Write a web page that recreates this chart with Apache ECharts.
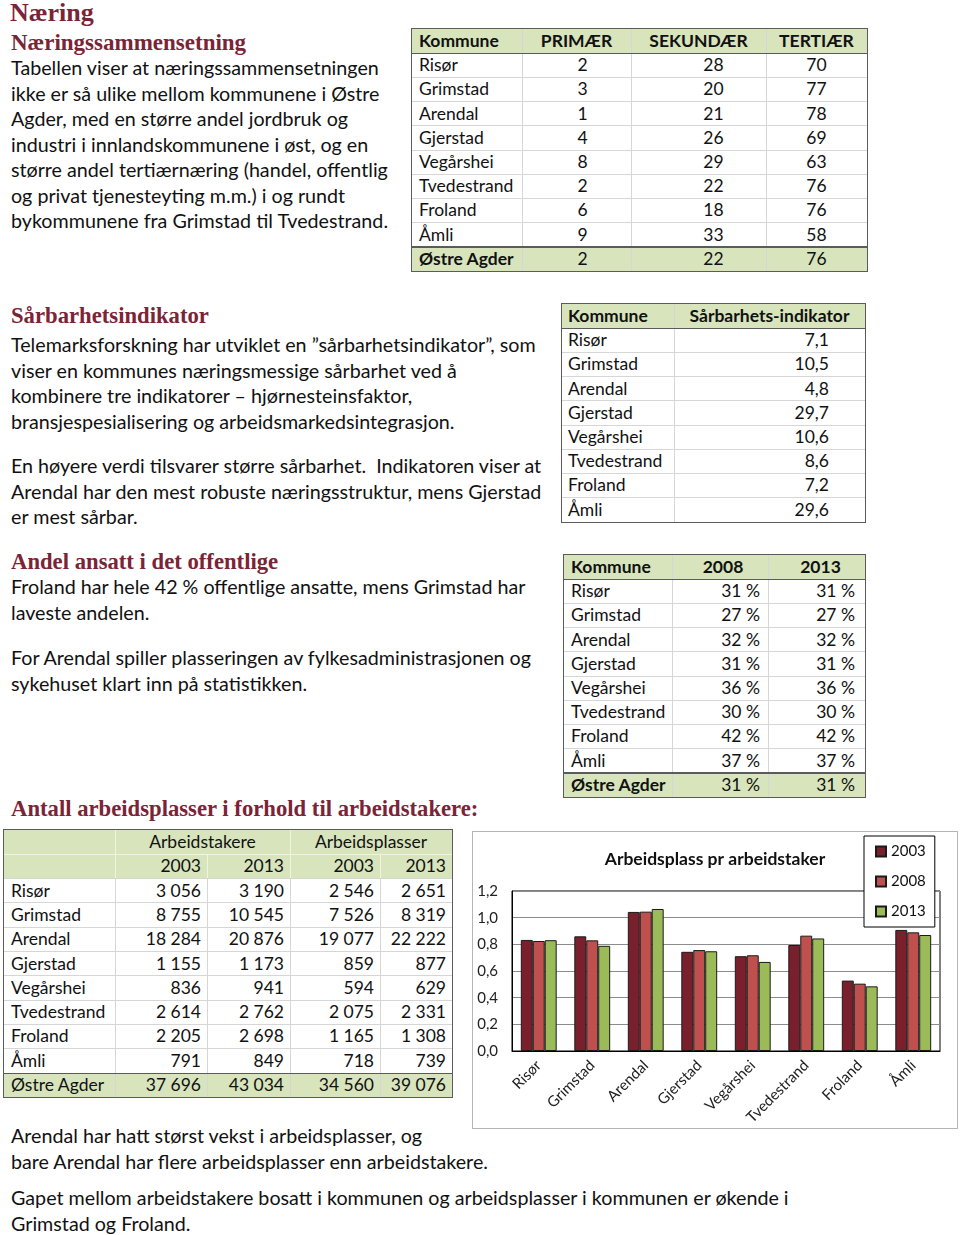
<!DOCTYPE html>
<html><head><meta charset="utf-8">
<script src="https://cdn.jsdelivr.net/npm/echarts@6/dist/echarts.min.js"></script>
<style>
html,body{margin:0;padding:0;background:#fff}
body{width:960px;height:1235px;position:relative;overflow:hidden;font-family:Lato,'Open Sans',sans-serif;color:#111}
.h{position:absolute;font-family:'Liberation Serif',serif;font-weight:bold;color:#7b2436;white-space:nowrap;line-height:28px}
.p{position:absolute;font-size:19.7px;line-height:25.5px;white-space:pre;left:11px}
.abs{position:absolute}
.cell{position:absolute;white-space:nowrap;font-size:17.5px;box-sizing:border-box}
</style></head>
<body>
<div id="page"></div>
<div id="chart" class="abs" style="left:472px;top:831px;width:486px;height:298px"></div>
<div class="abs" style="left:472px;top:831px;width:486px;height:298px;box-sizing:border-box;border:1px solid #b5b5b5;pointer-events:none"></div>
<script>
// ---------- data ----------
const municipalities = ['Risør','Grimstad','Arendal','Gjerstad','Vegårshei','Tvedestrand','Froland','Åmli'];
const totalName = 'Østre Agder';
const primaer = ['2','3','1','4','8','2','6','9'];
const sekundaer = ['28','20','21','26','29','22','18','33'];
const tertiaer = ['70','77','78','69','63','76','76','58'];
const naeringTotal = ['2','22','76'];
const naeringHeader = ['Kommune','PRIMÆR','SEKUNDÆR','TERTIÆR'];
const sarbarHeader = ['Kommune','Sårbarhets-indikator'];
const sarbarhet = ['7,1','10,5','4,8','29,7','10,6','8,6','7,2','29,6'];
const offHeader = ['Kommune','2008','2013'];
const offentlig2008 = ['31 %','27 %','32 %','31 %','36 %','30 %','42 %','37 %'];
const offentlig2013 = ['31 %','27 %','32 %','31 %','36 %','30 %','42 %','37 %'];
const offentligTotal = ['31 %','31 %'];
const arbGroups = ['Arbeidstakere','Arbeidsplasser'];
const arbYears = ['2003','2013','2003','2013'];
const arbeidstakere2003 = ['3 056','8 755','18 284','1 155','836','2 614','2 205','791'];
const arbeidstakere2013 = ['3 190','10 545','20 876','1 173','941','2 762','2 698','849'];
const arbeidsplasser2003 = ['2 546','7 526','19 077','859','594','2 075','1 165','718'];
const arbeidsplasser2013 = ['2 651','8 319','22 222','877','629','2 331','1 308','739'];
const arbTotal = ['37 696','43 034','34 560','39 076'];

const chartTitle = 'Arbeidsplass pr arbeidstaker';
const chartCategories = municipalities;
const legendYears = ['2003','2008','2013'];
const ratio2003 = [0.833, 0.86, 1.043, 0.744, 0.711, 0.795, 0.528, 0.908];
const ratio2008 = [0.825, 0.83, 1.045, 0.757, 0.718, 0.865, 0.505, 0.89];
const ratio2013 = [0.831, 0.789, 1.065, 0.748, 0.668, 0.844, 0.485, 0.87];
const yTickLabels = ['0,0','0,2','0,4','0,6','0,8','1,0','1,2'];

// ---------- text ----------
const page = document.getElementById('page');
function add(tag, cls, style, text){
  const e=document.createElement(tag); if(cls) e.className=cls;
  Object.assign(e.style, style); if(text!=null) e.textContent=text; page.appendChild(e); return e;
}
function heading(x, yc, size, t){ add('div','h',{left:x+'px',top:(yc-14)+'px',fontSize:size+'px'},t); }
function para(yFirst, lines){
  const d=add('div','p',{top:(yFirst-12.75)+'px'});
  d.textContent=lines.join('\n');
}
heading(10, 13, 26, 'Næring');
heading(11, 43, 23, 'Næringssammensetning');
para(68, ['Tabellen viser at næringssammensetningen','ikke er så ulike mellom kommunene i Østre','Agder, med en større andel jordbruk og','industri i innlandskommunene i øst, og en','større andel tertiærnæring (handel, offentlig','og privat tjenesteyting m.m.) i og rundt','bykommunene fra Grimstad til Tvedestrand.']);
heading(11, 316, 22.7, 'Sårbarhetsindikator');
para(345, ['Telemarksforskning har utviklet en ”sårbarhetsindikator”, som','viser en kommunes næringsmessige sårbarhet ved å','kombinere tre indikatorer – hjørnesteinsfaktor,','bransjespesialisering og arbeidsmarkedsintegrasjon.']);
para(466, ['En høyere verdi tilsvarer større sårbarhet.  Indikatoren viser at','Arendal har den mest robuste næringsstruktur, mens Gjerstad','er mest sårbar.']);
heading(11, 562, 22.7, 'Andel ansatt i det offentlige');
para(587, ['Froland har hele 42 % offentlige ansatte, mens Grimstad har','laveste andelen.']);
para(658, ['For Arendal spiller plasseringen av fylkesadministrasjonen og','sykehuset klart inn på statistikken.']);
heading(11, 809, 22.7, 'Antall arbeidsplasser i forhold til arbeidstakere:');
para(1136, ['Arendal har hatt størst vekst i arbeidsplasser, og','bare Arendal har flere arbeidsplasser enn arbeidstakere.']);
para(1198, ['Gapet mellom arbeidstakere bosatt i kommunen og arbeidsplasser i kommunen er økende i','Grimstad og Froland.']);

// ---------- tables ----------
const GREEN='#d7e4bc', DARK='#5b5b5b', LIGHT='#d6d6d6';
function table(x0, y0, edges, rowH, rows){
  const W=edges[edges.length-1]-edges[0], H=rows.length*rowH;
  rows.forEach((r,i)=>{
    const top=y0+i*rowH;
    if(r.bg) add('div','abs',{left:x0+'px',top:top+'px',width:W+'px',height:rowH+'px',background:r.bg});
    for(let k=1;k<edges.length-1;k++){
      if(r.noV && r.noV.includes(k)) continue;
      add('div','abs',{left:(edges[k]-0.5)+'px',top:top+'px',width:'1px',height:rowH+'px',background:r.vCol||LIGHT});
    }
    if(i>0) add('div','abs',{left:x0+'px',top:(top-0.5)+'px',width:W+'px',height:(r.dark?1.5:1)+'px',background:r.dark?DARK:(r.hCol||LIGHT)});
    r.cells.forEach(c=>{
      const L=edges[c.c0], w=edges[c.c1]-edges[c.c0];
      const st={left:(L+(c.dx||0))+'px',top:top+'px',width:w+'px',height:rowH+'px',lineHeight:rowH+'px',fontWeight:c.b?'bold':'normal'};
      if(c.a==='l'){st.textAlign='left';st.paddingLeft=(c.pad||7)+'px';}
      else if(c.a==='r'){st.textAlign='right';st.paddingRight=(c.pad||6)+'px';}
      else st.textAlign='center';
      add('div','cell',st,c.t);
    });
  });
  add('div','abs',{left:(x0-0.75)+'px',top:(y0-0.75)+'px',width:(W+1.5)+'px',height:(H+1.5)+'px',boxSizing:'border-box',border:'1.5px solid '+DARK});
}
// table 1: næringssammensetning
(function(){
  const rows=[{bg:GREEN,cells:naeringHeader.map((t,k)=>({t,c0:k,c1:k+1,a:k?'c':'l',b:true}))}];
  const dxs=[6,15,0];
  municipalities.forEach((m,i)=>{
    rows.push({dark:i===0,cells:[{t:m,c0:0,c1:1,a:'l'},
      {t:primaer[i],c0:1,c1:2,a:'c',dx:dxs[0]},{t:sekundaer[i],c0:2,c1:3,a:'c',dx:dxs[1]},{t:tertiaer[i],c0:3,c1:4,a:'c',dx:dxs[2]}]});
  });
  rows.push({bg:GREEN,dark:true,cells:[{t:totalName,c0:0,c1:1,a:'l',b:true}].concat(naeringTotal.map((t,k)=>({t,c0:k+1,c1:k+2,a:'c',dx:dxs[k]})))});
  table(412,29,[412,522,631,766,867],24.2,rows);
})();
// table 2: sårbarhet
(function(){
  const rows=[{bg:GREEN,cells:[{t:sarbarHeader[0],c0:0,c1:1,a:'l',b:true,pad:6},{t:sarbarHeader[1],c0:1,c1:2,a:'c',b:true}]}];
  municipalities.forEach((m,i)=>rows.push({dark:i===0,cells:[{t:m,c0:0,c1:1,a:'l',pad:6},{t:sarbarhet[i],c0:1,c1:2,a:'r',pad:36}]}));
  table(562,304,[562,674,865],24.2,rows);
})();
// table 3: offentlig
(function(){
  const rows=[{bg:GREEN,cells:[{t:offHeader[0],c0:0,c1:1,a:'l',b:true},{t:offHeader[1],c0:1,c1:2,a:'c',b:true,dx:3},{t:offHeader[2],c0:2,c1:3,a:'c',b:true,dx:4}]}];
  municipalities.forEach((m,i)=>rows.push({dark:i===0,cells:[{t:m,c0:0,c1:1,a:'l'},{t:offentlig2008[i],c0:1,c1:2,a:'r',pad:8},{t:offentlig2013[i],c0:2,c1:3,a:'r',pad:10}]}));
  rows.push({bg:GREEN,dark:true,cells:[{t:totalName,c0:0,c1:1,a:'l',b:true},{t:offentligTotal[0],c0:1,c1:2,a:'r',pad:8},{t:offentligTotal[1],c0:2,c1:3,a:'r',pad:10}]});
  table(564,555,[564,672,768,865],24.2,rows);
})();
// table 4: arbeidstakere / arbeidsplasser
(function(){
  const rows=[];
  rows.push({bg:GREEN,noV:[2,4],vCol:'#eef3e3',cells:[{t:arbGroups[0],c0:1,c1:3,a:'c'},{t:arbGroups[1],c0:3,c1:5,a:'c'}]});
  rows.push({bg:GREEN,vCol:'#eef3e3',hCol:'#eef3e3',cells:arbYears.map((t,k)=>({t,c0:k+1,c1:k+2,a:'r'}))});
  municipalities.forEach((m,i)=>rows.push({cells:[{t:m,c0:0,c1:1,a:'l'},
    {t:arbeidstakere2003[i],c0:1,c1:2,a:'r'},{t:arbeidstakere2013[i],c0:2,c1:3,a:'r'},
    {t:arbeidsplasser2003[i],c0:3,c1:4,a:'r'},{t:arbeidsplasser2013[i],c0:4,c1:5,a:'r'}]}));
  rows.push({bg:GREEN,dark:true,cells:[{t:totalName,c0:0,c1:1,a:'l'}].concat(arbTotal.map((t,k)=>({t,c0:k+1,c1:k+2,a:'r'})))});
  table(4,830,[4,115,207,290,380,452],24.3,rows);
})();

// ---------- chart ----------
const chart = echarts.init(document.getElementById('chart'), null, {renderer:'canvas'});
const FONT = 'Lato, sans-serif';
const colors = ['#7a1f2c','#c0504d','#9bbb59'];
const seriesData = [ratio2003, ratio2008, ratio2013];
chart.setOption({
  animation:false,
  backgroundColor:'#fff',
  textStyle:{fontFamily:FONT},
  title:{text:chartTitle,left:'center',top:14,textStyle:{fontFamily:FONT,fontSize:17.5,fontWeight:'bold',color:'#111'}},
  legend:{data:legendYears,orient:'vertical',left:392,top:5,backgroundColor:'#fff',borderColor:'#000',borderWidth:1,
    padding:[8,9,8,11],itemGap:15,itemWidth:10,itemHeight:10,icon:'rect',
    textStyle:{fontFamily:FONT,fontSize:15,color:'#111'}},
  grid:{left:40,top:60,width:428,height:160,show:true,borderColor:'#000',borderWidth:1,containLabel:false},
  xAxis:{type:'category',data:chartCategories,
    axisLine:{lineStyle:{color:'#000',width:1}},axisTick:{show:false},
    axisLabel:{rotate:45,interval:0,margin:12,fontSize:15,color:'#222',fontFamily:FONT}},
  yAxis:{type:'value',min:0,max:1.2,interval:0.2,
    axisLine:{show:true,lineStyle:{color:'#000'}},axisTick:{show:false},
    splitLine:{lineStyle:{color:'#8c8c8c',width:1}},
    axisLabel:{margin:14,fontSize:15,color:'#222',fontFamily:FONT,formatter:v=>yTickLabels[Math.round(v/0.2)]}},
  series:legendYears.map((y,k)=>({name:y,type:'bar',data:seriesData[k],barGap:'0%',barCategoryGap:'33%',
    itemStyle:{color:colors[k],borderColor:'#1a1a1a',borderWidth:1}}))
});
</script>
</body></html>
